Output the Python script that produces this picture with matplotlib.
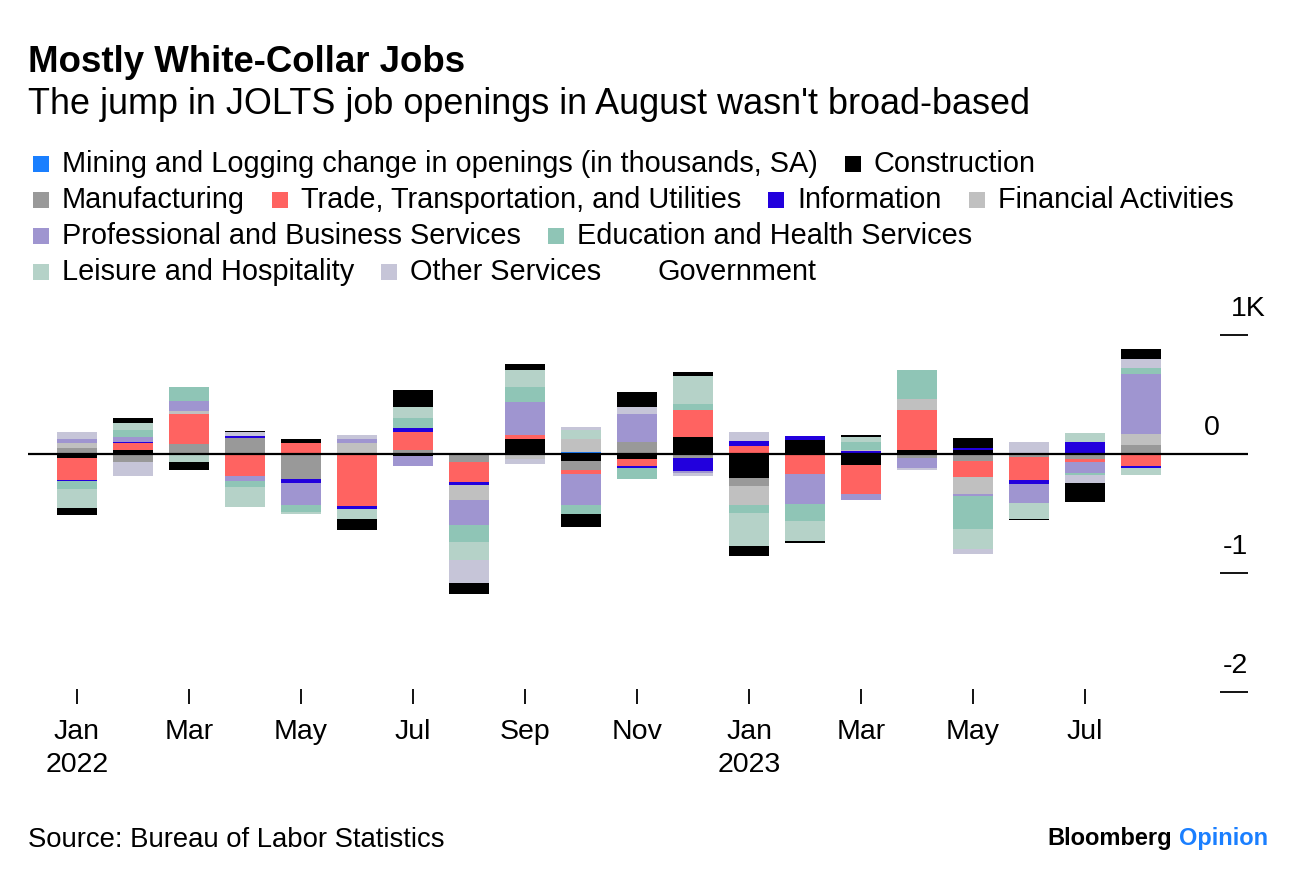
import numpy as np
import matplotlib
matplotlib.use("Agg")
import matplotlib.pyplot as plt
from matplotlib.patches import Rectangle

plt.rcParams['font.family'] = ['Liberation Sans', 'DejaVu Sans']

W, H = 1296, 882

months = ['Jan\n2022', 'Feb', 'Mar', 'Apr', 'May', 'Jun', 'Jul', 'Aug', 'Sep', 'Oct', 'Nov', 'Dec',
          'Jan\n2023', 'Feb', 'Mar', 'Apr', 'May', 'Jun', 'Jul', 'Aug']

# change in job openings by industry, thousands (Jan 2022 .. Aug 2023)
mining = [0, 0, 5, 0, 0, 0, 0, -6, 6, 15, 0, 0, 0, 0, 0, 0, 0, 0, 0, 0]
construction = [-34, 30, 0, 0, -8, 0, -20, 0, 118, -62, -42, 143, -202, 118, -95, 34, 36, 0, -10, 0]
manufacturing = [53, -70, 79, 134, -200, 0, 36, -64, 0, -76, 98, -34, -64, -10, 0, -34, -62, -25, -35, 76]
trade = [-182, 62, 252, -188, 90, -440, 149, -168, 36, -30, -62, 229, 70, -162, -238, 339, -134, -196, -20, -98]
information = [-8, 8, 0, 14, -34, -20, 34, -22, 0, 0, -15, -105, 42, 36, 22, 0, 14, -28, 98, -17]
financial = [39, 0, 28, 0, 0, 92, 0, -126, -40, 112, 0, 0, -165, 0, 14, 90, -137, 0, 0, 92]
professional = [34, 42, 84, -42, -184, 36, -84, -207, 280, -264, 238, -25, 0, -252, -50, -84, -17, -160, -92, 502]
education = [-67, 56, 115, -50, -62, 0, 84, -148, 123, -70, -90, 45, -64, -140, 62, 246, -277, 0, -20, 50]
leisure = [-160, 64, -70, -168, -20, -84, 89, -148, 143, 76, 0, 240, -275, -168, 45, 0, -168, -140, 78, -62]
other = [56, -112, 0, 34, 0, 34, 0, -196, -45, 20, 59, -25, 70, 0, 0, -17, -42, 98, -70, 76]
government = [-59, 42, -62, 8, 36, -92, 146, -95, 48, -112, 126, 31, -84, -14, 20, 0, 84, -5, -160, 87]

names = ['Mining and Logging change in openings (in thousands, SA)', 'Construction',
         'Manufacturing', 'Trade, Transportation, and Utilities', 'Information', 'Financial Activities',
         'Professional and Business Services', 'Education and Health Services',
         'Leisure and Hospitality', 'Other Services', 'Government']
series = [mining, construction, manufacturing, trade, information, financial,
          professional, education, leisure, other, government]
colors = ['#1a7fff', '#000000', '#999999', '#ff6361', '#2200dd', '#c0c0c0',
          '#9f95d0', '#8fc5b6', '#b5d2c8', '#c6c5d8', '#000000']
legend_rows = [[0, 1], [2, 3, 4, 5], [6, 7], [8, 9, 10]]

yticks = [1000, 0, -1000, -2000]
ylabels = ['1K', '0', '-1', '-2']
ylabel_dx = [13, -20, 0, 0]  # label nudges in points, as in the original

fig = plt.figure(figsize=(W / 100, H / 100), dpi=100)


def fx(px):
    return px / W


def fy(py):
    return 1 - py / H


fig.text(fx(28), fy(62), 'Mostly White-Collar Jobs', fontsize=26.4, fontweight='bold', va='center')
fig.text(fx(28), fy(104), "The jump in JOLTS job openings in August wasn't broad-based", fontsize=25.9, va='center')

# legend, laid out by hand like the original
renderer = fig.canvas.get_renderer()
for r, row in enumerate(legend_rows):
    yc = 164 + 36 * r
    xpos = 33
    for i in row:
        if i != 10:
            fig.patches.append(Rectangle((fx(xpos), fy(yc + 8)), fx(16), 16 / H, transform=fig.transFigure,
                                         facecolor=colors[i], edgecolor='none'))
        t = fig.text(fx(xpos + 29), fy(yc), names[i], fontsize=20.8, va='center')
        bb = t.get_window_extent(renderer)
        xpos = bb.x1 + 27

ax = fig.add_axes([fx(28), fy(704), (1248 - 28) / W, (704 - 323) / H])
x = np.arange(len(months))
pos = np.zeros(len(x))
neg = np.zeros(len(x))
for vals, color in zip(series, colors):
    v = np.array(vals, float)
    base = np.where(v >= 0, pos, neg)
    ax.bar(x, v, 0.7, bottom=base, color=color, linewidth=0, zorder=2)
    pos += np.clip(v, 0, None)
    neg += np.clip(v, None, 0)

ax.axhline(0, color='black', lw=1.6, zorder=3)
ax.set_xlim(-0.875, 20.91)
ax.set_ylim(-2100, 1100)
for s in ax.spines.values():
    s.set_visible(False)

ax.set_xticks(x[::2])
ax.set_xticklabels(months[::2])
ax.tick_params(axis='x', direction='in', length=11, width=1.3, pad=11, labelsize=20.5)
for lbl in ax.get_xticklabels():
    lbl.set_linespacing(1.33)

ax.yaxis.tick_right()
ax.set_yticks(yticks)
ax.tick_params(axis='y', direction='in', length=20, width=1.3, labelright=False)
for v, lab, dx in zip(yticks, ylabels, ylabel_dx):
    ax.annotate(lab, xy=(1, v), xycoords=('axes fraction', 'data'), xytext=(dx, 19),
                textcoords='offset points', ha='right', va='center', fontsize=20.5)

fig.text(fx(28), fy(840), 'Source: Bureau of Labor Statistics', fontsize=19.8, va='center')
fig.text(fx(1172), fy(838), 'Bloomberg', fontsize=17, fontweight='bold', va='center', ha='right')
fig.text(fx(1179), fy(838), 'Opinion', fontsize=17, fontweight='bold', va='center', color='#1a7fff')

fig.savefig('out.png', dpi=100)
